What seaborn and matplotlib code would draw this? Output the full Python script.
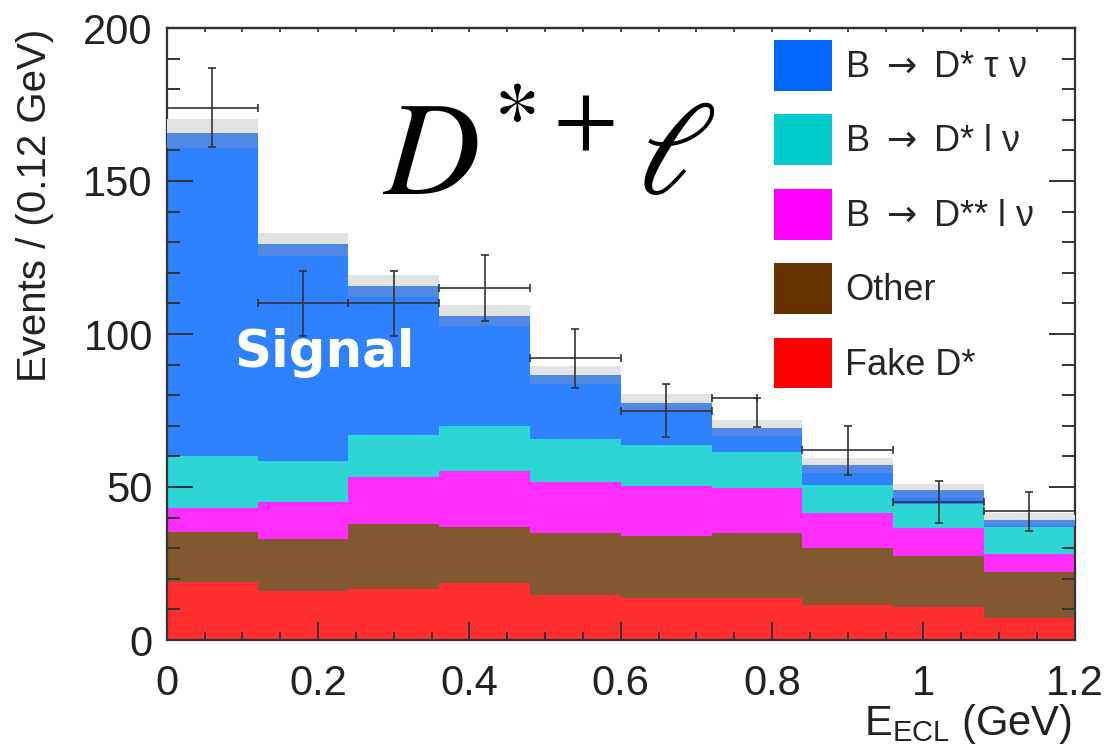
import matplotlib
matplotlib.use("Agg")
import matplotlib.pyplot as plt
import matplotlib.ticker as mticker
from matplotlib.patches import Patch
import seaborn as sns
import pandas as pd
import numpy as np

# bin edges in E_ECL (GeV)
edges = [0.0, 0.12, 0.24, 0.36, 0.48, 0.60, 0.72, 0.84, 0.96, 1.08, 1.20]

# stacked MC components per bin (bottom to top)
fake_dstar = [19.0, 16.1, 16.6, 18.6, 14.7, 13.6, 13.7, 11.4, 10.7, 7.2]
other = [16.4, 16.9, 21.3, 18.3, 20.2, 20.4, 21.3, 18.8, 16.9, 14.9]
dss_lnu = [7.8, 12.0, 15.3, 18.3, 16.8, 16.3, 14.8, 11.3, 9.0, 6.1]
dstar_lnu = [16.9, 13.5, 13.8, 14.7, 14.0, 13.4, 11.5, 9.2, 7.8, 8.7]
dstar_taunu = [100.8, 67.0, 45.1, 32.7, 18.0, 11.3, 5.4, 3.9, 2.1, 0.4]

# uncertainty bands above the stack
band_inner = [4.7, 3.9, 3.6, 3.3, 2.9, 2.6, 2.6, 2.6, 2.4, 2.0]
band_outer = [4.6, 3.5, 3.6, 3.6, 2.9, 2.7, 2.6, 2.3, 2.1, 2.1]

# data points
data_y = [174, 110, 110, 115, 92, 75, 79, 62, 45, 42]
data_err_lo = [13.0, 10.5, 10.5, 10.7, 9.7, 8.7, 9.3, 8.0, 6.8, 6.5]
data_err_hi = [13.0, 10.5, 10.5, 10.7, 9.7, 8.7, 0.0, 8.0, 6.8, 6.5]
data_xerr_lo = [0.06, 0.06, 0.06, 0.06, 0.06, 0.06, 0.06, 0.06, 0.06, 0.06]
data_xerr_hi = [0.06, 0.06, 0.06, 0.06, 0.06, 0.06, 0.0, 0.06, 0.06, 0.06]

labels = [r"B $\rightarrow$ D* τ ν", r"B $\rightarrow$ D* l ν",
          r"B $\rightarrow$ D** l ν", "Other", "Fake D*"]
colors = ["#0066FF", "#00CCCC", "#FF00FF", "#663300", "#FF0000"]

sns.set_theme(style="ticks")
plt.rcParams["font.family"] = ["Liberation Sans", "DejaVu Sans"]

edges_arr = np.array(edges)
centers = (edges_arr[:-1] + edges_arr[1:]) / 2

# long-format table for seaborn stacking
comps = [dstar_taunu, dstar_lnu, dss_lnu, other, fake_dstar]
rows = []
for lab, vals in zip(labels, comps):
    for c, v in zip(centers, vals):
        rows.append({"E": c, "n": v, "comp": lab})
df = pd.DataFrame(rows)

fig = plt.figure(figsize=(11.1, 7.46), dpi=100)
ax = fig.add_axes([166.7 / 1110, 1 - 640 / 746, 908 / 1110, 612 / 746])

sns.histplot(data=df, x="E", weights="n", hue="comp", hue_order=labels,
             palette=dict(zip(labels, colors)), bins=edges, multiple="stack",
             element="step", alpha=0.82, linewidth=0, legend=False, ax=ax)

total = np.sum(comps, axis=0)
ax.stairs(total + np.array(band_inner), edges, baseline=total, fill=True,
          color="#5089E3", linewidth=0, zorder=3)
ax.stairs(total + np.array(band_inner) + np.array(band_outer), edges,
          baseline=total + np.array(band_inner), fill=True, color="#E3E3E3",
          linewidth=0, zorder=3)

ax.errorbar(centers, data_y, xerr=[data_xerr_lo, data_xerr_hi],
            yerr=[data_err_lo, data_err_hi], fmt="none", ecolor="#333333",
            elinewidth=1.2, capsize=3, capthick=1.2, zorder=4)

ax.set_xlim(0, 1.2)
ax.set_ylim(0, 200)
ax.set_xlabel("")
ax.set_ylabel("")
ax.xaxis.set_major_locator(mticker.MultipleLocator(0.2))
ax.xaxis.set_minor_locator(mticker.MultipleLocator(0.05))
ax.yaxis.set_major_locator(mticker.MultipleLocator(50))
ax.yaxis.set_minor_locator(mticker.MultipleLocator(10))
ax.xaxis.set_major_formatter(mticker.FuncFormatter(lambda v, p: "%g" % round(v, 2)))
ax.yaxis.set_major_formatter(mticker.FuncFormatter(lambda v, p: "%g" % v))
ax.tick_params(which="both", direction="in", top=False, right=True,
               colors="#333333", labelcolor="#222222", labelsize=30, width=1.4)
ax.tick_params(axis="y", which="major", length=19, pad=10)
ax.tick_params(axis="y", which="minor", length=9.5)
ax.tick_params(axis="x", which="major", length=13, pad=17)
ax.tick_params(axis="x", which="minor", length=6)
for s in ax.spines.values():
    s.set_color("#333333")
    s.set_linewidth(1.6)
ax.set_axisbelow(False)

# tiny ticks along the top edge
top = ax.secondary_xaxis("top")
top.xaxis.set_major_locator(mticker.MultipleLocator(0.2))
top.xaxis.set_minor_locator(mticker.MultipleLocator(0.05))
top.tick_params(which="both", direction="in", length=3, width=1.2,
                colors="#333333", labeltop=False)
top.spines["top"].set_color("#333333")
top.spines["top"].set_linewidth(1.6)

ax.text(0.284, 145.4, r"$D^{*+}\ell$", fontsize=96, math_fontfamily="stix",
        ha="left", va="baseline", color="black", zorder=5)
ax.text(0.2086, 89.3, "Signal", fontsize=37, fontweight="bold", color="white",
        family="DejaVu Sans", ha="center", va="baseline", zorder=5)

handles = [Patch(facecolor=c, edgecolor="none") for c in colors]
fig.legend(handles, labels, loc="upper left",
           bbox_to_anchor=(774 / 1110, 1 - 40 / 746), bbox_transform=fig.transFigure,
           frameon=False, fontsize=26, borderpad=0, borderaxespad=0,
           handlelength=1.61, handleheight=1.78, labelspacing=0.66,
           handletextpad=0.35)

fig.text(0.0315, 0.962, "Events / (0.12 GeV)", rotation=90, ha="center", va="top",
         fontsize=29, color="#222222")
fig.text(1072 / 1110, 11 / 746, r"E$_{\mathregular{ECL}}$ (GeV)", ha="right",
         va="baseline", fontsize=30, color="#222222")

fig.savefig("out.png", dpi=100)
